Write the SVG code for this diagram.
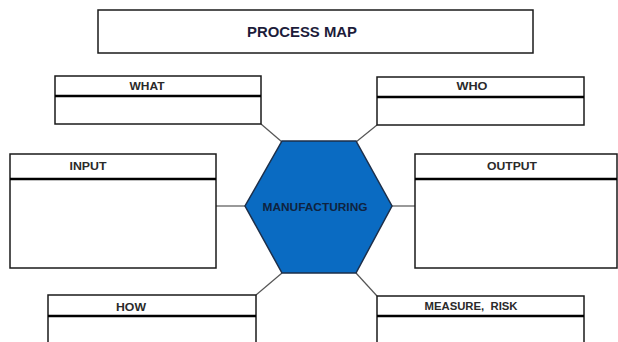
<svg xmlns="http://www.w3.org/2000/svg" width="618" height="342" viewBox="0 0 618 342">
<style>
.box{fill:#fff;stroke:#1a1a1a;stroke-width:1.5}
.div{stroke:#000;stroke-width:2.5}
.lbl{font-family:"Liberation Sans",Arial,sans-serif;font-weight:bold;font-size:10px;fill:#2a2a2a;text-anchor:middle}
.con{stroke:#555;stroke-width:1.2;fill:none}
</style>
<rect width="618" height="342" fill="#fff"/>
<g id="title">
<rect class="box" x="98" y="10" width="435" height="43"/>
<text x="302" y="37" font-family="'Liberation Sans',Arial,sans-serif" font-weight="bold" font-size="14" fill="#1c1c3a" text-anchor="middle" textLength="110" lengthAdjust="spacingAndGlyphs">PROCESS MAP</text>
</g>
<g id="connectors">
<line class="con" x1="261" y1="124" x2="282" y2="142"/>
<line class="con" x1="377" y1="125" x2="356" y2="142"/>
<line class="con" x1="216" y1="206" x2="245" y2="206"/>
<line class="con" x1="415" y1="206" x2="392" y2="206"/>
<line class="con" x1="256" y1="295" x2="282" y2="273"/>
<line class="con" x1="377" y1="296" x2="356" y2="273"/>
</g>
<g id="what">
<rect class="box" x="55" y="76" width="206" height="48"/>
<line class="div" x1="55" y1="96" x2="261" y2="96"/>
<text class="lbl" x="147" y="90" textLength="35" lengthAdjust="spacingAndGlyphs">WHAT</text>
</g>
<g id="who">
<rect class="box" x="377" y="77" width="207" height="48"/>
<line class="div" x1="377" y1="97" x2="584" y2="97"/>
<text class="lbl" x="472" y="90" textLength="31" lengthAdjust="spacingAndGlyphs">WHO</text>
</g>
<g id="input">
<rect class="box" x="10" y="154" width="206" height="114"/>
<line class="div" x1="10" y1="179" x2="216" y2="179"/>
<text class="lbl" x="88" y="170" textLength="37" lengthAdjust="spacingAndGlyphs">INPUT</text>
</g>
<g id="output">
<rect class="box" x="415" y="154" width="202" height="114"/>
<line class="div" x1="415" y1="179" x2="617" y2="179"/>
<text class="lbl" x="512" y="170" textLength="50" lengthAdjust="spacingAndGlyphs">OUTPUT</text>
</g>
<g id="how">
<rect class="box" x="48" y="295" width="208" height="60"/>
<line class="div" x1="48" y1="316" x2="256" y2="316"/>
<text class="lbl" x="131" y="311" textLength="30" lengthAdjust="spacingAndGlyphs">HOW</text>
</g>
<g id="measure">
<rect class="box" x="377" y="296" width="207" height="60"/>
<line class="div" x1="377" y1="316" x2="584" y2="316"/>
<text class="lbl" x="471" y="310" textLength="93" lengthAdjust="spacingAndGlyphs" style="white-space:pre">MEASURE,  RISK</text>
</g>
<g id="manufacturing">
<polygon points="282,141 356,141 392,206 356,273 282,273 245,206" fill="#0a6bc2" stroke="#1d2f4a" stroke-width="1.5"/>
<text x="315" y="211" font-family="'Liberation Sans',Arial,sans-serif" font-weight="bold" font-size="10" fill="#0f2340" text-anchor="middle" textLength="105" lengthAdjust="spacingAndGlyphs">MANUFACTURING</text>
</g>
</svg>
